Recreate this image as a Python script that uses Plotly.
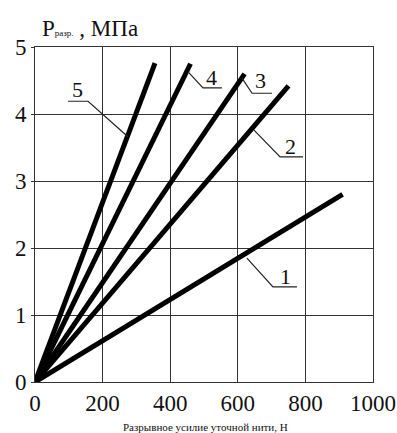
import plotly.graph_objects as go

# Data: straight lines from origin to end point
series_names = ["1", "2", "3", "4", "5"]
end_force = [910, 750, 620, 460, 355]      # N
end_pressure = [2.80, 4.42, 4.60, 4.75, 4.76]  # MPa

# Label leaders: (line point, bend point, underline end), label position
leader_pts = {
    "1": [(627, 1.85), (704, 1.42), (775, 1.42)],
    "2": [(648, 3.76), (725, 3.36), (793, 3.36)],
    "3": [(612, 4.54), (642, 4.31), (701, 4.31)],
    "4": [(453, 4.63), (497, 4.39), (553, 4.39)],
    "5": [(275, 3.66), (157, 4.19), (98, 4.19)],
}
label_pos = {
    "1": (740, 1.58),
    "2": (756, 3.52),
    "3": (668, 4.50),
    "4": (522, 4.55),
    "5": (126, 4.36),
}

x_ticks = [0, 200, 400, 600, 800, 1000]
y_ticks = [0, 1, 2, 3, 4, 5]

FONT = "Liberation Serif"

fig = go.Figure()
for name, fx, py in zip(series_names, end_force, end_pressure):
    fig.add_trace(go.Scatter(x=[0, fx], y=[0, py], mode="lines",
                             line=dict(color="black", width=5),
                             name=name, showlegend=False, hoverinfo="skip"))

for name in series_names:
    pts = leader_pts[name]
    fig.add_trace(go.Scatter(x=[p[0] for p in pts], y=[p[1] for p in pts],
                             mode="lines", line=dict(color="#222", width=1.2),
                             showlegend=False, hoverinfo="skip"))
    lx, ly = label_pos[name]
    fig.add_annotation(x=lx, y=ly, text=name, showarrow=False,
                       font=dict(family=FONT, size=22, color="#111"))

fig.add_annotation(xref="paper", yref="paper", x=0.015, y=1.0, yshift=4,
                   xanchor="left", yanchor="bottom",
                   text="P<span style='font-size:9px'>разр.</span> , МПа",
                   showarrow=False, font=dict(family=FONT, size=23, color="#111"))
fig.add_annotation(xref="paper", yref="paper", x=0.505, y=0, yshift=-37,
                   xanchor="center", yanchor="top",
                   text="Разрывное усилие уточной нити, Н",
                   showarrow=False, font=dict(family=FONT, size=11, color="#111"))

axis_common = dict(showgrid=True, gridcolor="#333", gridwidth=1,
                   showline=True, linecolor="#333", linewidth=1, mirror=True,
                   zeroline=False, tickcolor="#333",
                   automargin=False,
                   tickfont=dict(family=FONT, size=23, color="#111"))

fig.update_xaxes(range=[0, 1000], tickvals=x_ticks, ticks="", **axis_common)
fig.update_yaxes(range=[0, 5], tickvals=y_ticks, ticks="outside", ticklen=3,
                 **axis_common)

fig.update_layout(width=397, height=433,
                  margin=dict(l=35, r=24, t=47, b=51),
                  paper_bgcolor="white", plot_bgcolor="white")

fig.write_html("out.html",
               config={"displayModeBar": False},
               post_script="document.body.style.margin='0';document.body.style.overflow='hidden';")
